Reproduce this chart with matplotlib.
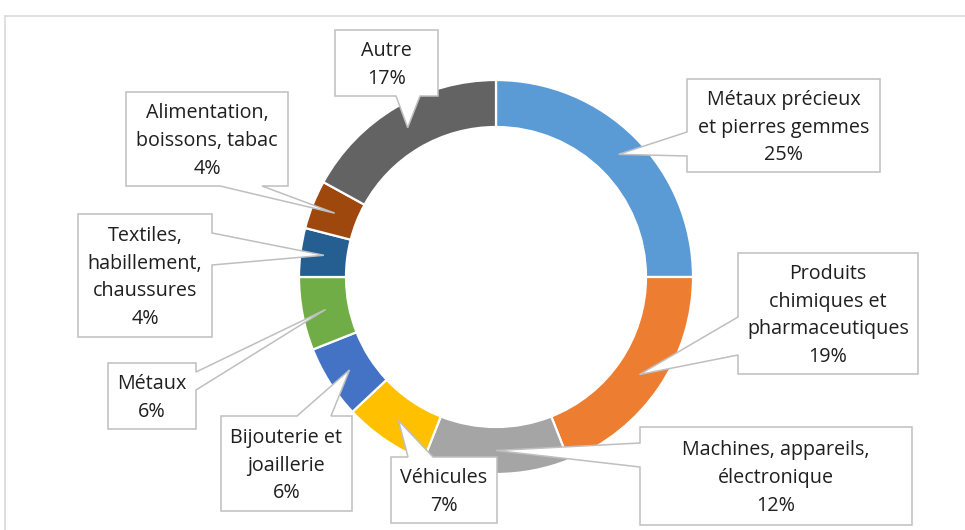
import numpy as np
import matplotlib.pyplot as plt
from matplotlib.patches import Polygon, Rectangle

W, H = 965, 530

# data
labels = ['Métaux précieux\net pierres gemmes', 'Produits\nchimiques et\npharmaceutiques',
          'Machines, appareils,\nélectronique', 'Véhicules', 'Bijouterie et\njoaillerie',
          'Métaux', 'Textiles,\nhabillement,\nchaussures', 'Alimentation,\nboissons, tabac', 'Autre']
values = [25, 19, 12, 7, 6, 6, 4, 4, 17]
colors = ['#5B9BD5', '#ED7D31', '#A5A5A5', '#FFC000', '#4472C4',
          '#70AD47', '#255E91', '#9E480E', '#636363']

# callout layout in pixels: box (x0, y0, x1, y1), side of tail, tail base span
boxes = [(687, 79, 880, 172), (738, 253, 918, 374), (640, 427, 912, 525), (391, 457, 497, 523),
         (221, 416, 352, 511), (108, 363, 196, 429), (78, 214, 212, 337), (126, 92, 288, 186),
         (335, 30, 438, 96)]
tails = [('left', 132, 156), ('left', 317, 355), ('left', 443, 467), ('top', 408, 433),
         ('top', 297, 331), ('right', 372, 390), ('right', 233, 265), ('bottom', 220, 262),
         ('bottom', 396, 420)]

cx, cy = 496, 277
r_out, r_in = 197, 150

plt.rcParams['font.family'] = ['Open Sans', 'DejaVu Sans']

fig = plt.figure(figsize=(W / 100, H / 100), dpi=100)
ax = fig.add_axes([0, 0, 1, 1])

ax.pie(values, colors=colors, startangle=90, counterclock=False,
       radius=r_out, center=(cx, H - cy),
       wedgeprops=dict(width=r_out - r_in, edgecolor='white', linewidth=1.6))
ax.set_xlim(0, W)
ax.set_ylim(0, H)
ax.set_aspect('equal')
ax.axis('off')

# chart area border (runs off the right and bottom edges)
ax.add_patch(Rectangle((5, -10), W + 20, H - 16 + 10, fill=False,
                       edgecolor='#D9D9D9', linewidth=1.2, zorder=1))


def flip(pts):
    return [(x, H - y) for x, y in pts]


total = sum(values)
cum = np.cumsum([0] + values)
r_mid = (r_out + r_in) / 2
for i, lab in enumerate(labels):
    mid = (cum[i] + values[i] / 2) / total * 2 * np.pi
    tip = (cx + r_mid * np.sin(mid), cy - r_mid * np.cos(mid))
    x0, y0, x1, y1 = boxes[i]
    side, a, b = tails[i]
    pts = [(x0, y0)]
    if side == 'top':
        pts += [(a, y0), tip, (b, y0)]
    pts.append((x1, y0))
    if side == 'right':
        pts += [(x1, a), tip, (x1, b)]
    pts.append((x1, y1))
    if side == 'bottom':
        pts += [(b, y1), tip, (a, y1)]
    pts.append((x0, y1))
    if side == 'left':
        pts += [(x0, b), tip, (x0, a)]
    ax.add_patch(Polygon(flip(pts), closed=True, facecolor='white',
                         edgecolor='#BFBFBF', linewidth=1.1, zorder=3))
    ax.text((x0 + x1) / 2, H - (y0 + y1) / 2 - 2, f'{lab}\n{values[i]}%',
            ha='center', va='center', fontsize=14.2, color='#1F1F1F',
            linespacing=1.52, zorder=4)

fig.savefig('out.png', dpi=100)
